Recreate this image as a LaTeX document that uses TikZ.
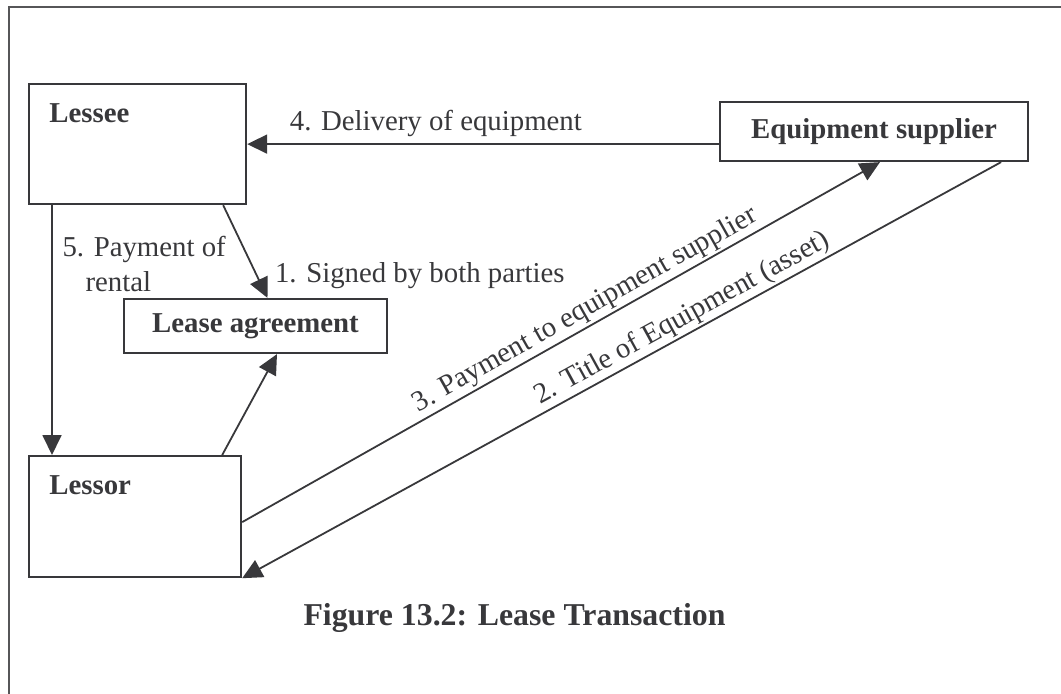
\documentclass[tikz,border=0pt]{standalone}
\usepackage{fontspec}
\setmainfont{Liberation Serif}
\usetikzlibrary{arrows.meta}
\definecolor{ink}{HTML}{38383B}
\newcommand{\lblfont}{\fontsize{14.4}{17.5}\selectfont}
\newcommand{\capfont}{\fontsize{15.9}{19}\selectfont\bfseries}
\tikzstyle{party}=[draw=ink, line width=1.1pt, inner sep=0pt, anchor=north west,
	text=ink, font=\lblfont\bfseries]
\tikzstyle{partyname}=[text=ink, font=\lblfont\bfseries, inner sep=0pt, anchor=west]
\tikzstyle{texto}=[text=ink, font=\lblfont]
\tikzstyle{slopedtext}=[texto, above, sloped, inner sep=1pt]
\tikzstyle{line}=[draw=ink, line width=0.9pt, -{Triangle[length=10pt,width=9.5pt]}]

\begin{document}
\begin{tikzpicture}[x=0.5pt, y=-0.5pt]
	\useasboundingbox (0,0) rectangle (1061,693);
	% Outer frame, cut by the page on the right and at the bottom
	\draw[draw=ink!85, line width=1.1pt] (9,7) rectangle (1080,710);

	% Parties and the agreement
	\node[party, minimum width=108.5pt, minimum height=60pt] (lessee) at (28,83) {};
	\node[party, minimum width=106pt, minimum height=60.5pt] (lessor) at (28,455) {};
	\node[party, anchor=center, minimum width=154pt, minimum height=29.5pt]
		(supplier) at (874,131.5) {Equipment supplier};
	\node[party, anchor=center, minimum width=131.5pt, minimum height=27pt]
		(agreement) at (255.5,326) {Lease agreement};
	\node[partyname] (lesseename) at ([shift={(21,30)}]lessee.north west) {Lessee};
	\node[partyname] (lessorname) at ([shift={(21,30)}]lessor.north west) {Lessor};

	% Draw arrows between elements
	\path [line] (supplier.west |- lessee.east) --
		node [texto, above, pos=0.6] (l4) {4. Delivery of equipment} (lessee.east);
	\path [line] ([xshift=12pt]lessee.south west) --
		node [texto, right, align=left, pos=0.235, xshift=1.5pt] (l5)
		{5. Payment of\\\hspace*{11.5pt}rental}
		([xshift=12pt]lessor.north west);
	\path [line] ([xshift=-12pt]lessee.south east) -- ([xshift=6pt]agreement.north)
		node [texto, anchor=south west, yshift=1pt] (l1) {1. Signed by both parties};
	\path [line] ([xshift=-10pt]lessor.north east) -- ([xshift=10.75pt]agreement.south);
	\path [line] ([yshift=-2.75pt]lessor.east) --
		node [slopedtext, pos=0.55] (l3) {3. Payment to equipment supplier}
		([xshift=3pt]supplier.south);
	\path [line] ([xshift=-14pt]supplier.south east) --
		node [slopedtext, pos=0.41] (l2) {2. Title of Equipment (asset)}
		(lessor.south east);

	\node[text=ink, font=\capfont] (caption) at (514.5,618) {Figure 13.2: Lease Transaction};
\end{tikzpicture}
\end{document}
